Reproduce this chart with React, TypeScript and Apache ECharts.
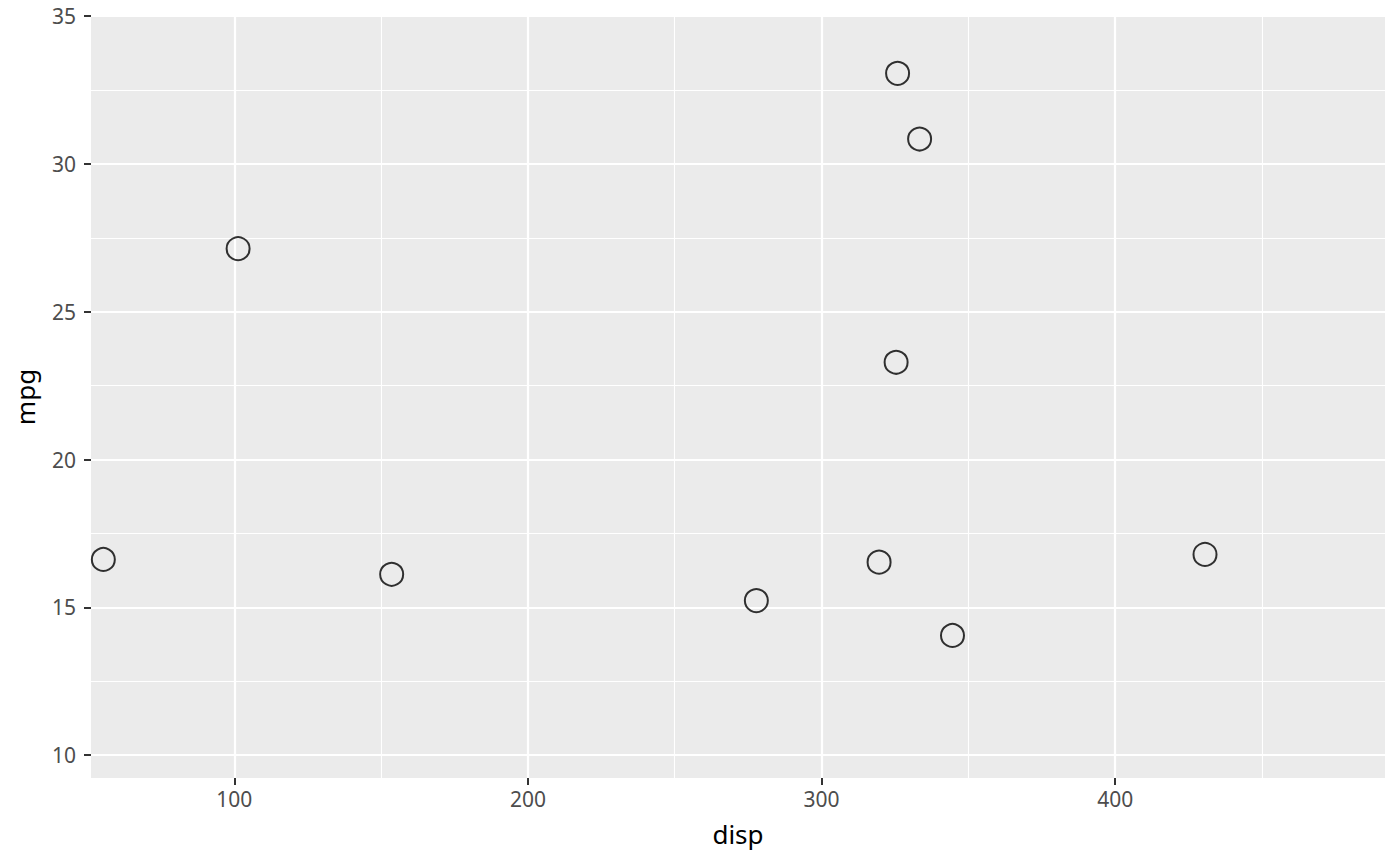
import React, { useEffect, useRef } from 'react';
import * as echarts from 'echarts';

// values (disp, mpg)
const dispValues = [55.4, 101.3, 153.6, 277.8, 319.6, 325.9, 333.4, 325.4, 344.6, 430.6];
const mpgValues = [16.62, 27.13, 16.12, 15.23, 16.53, 33.06, 30.84, 23.29, 14.05, 16.79];

const xTicks = [100, 200, 300, 400];
const xMinorTicks = [150, 250, 350, 450];
const yTicks = [10, 15, 20, 25, 30, 35];
const yMinorTicks = [12.5, 17.5, 22.5, 27.5, 32.5];

const FONT = 'Noto Sans';

const App: React.FC = () => {
  const chartRef = useRef<HTMLDivElement>(null);

  useEffect(() => {
    const chart = echarts.init(chartRef.current!, undefined, { renderer: 'svg' });

    const major = { color: '#ffffff', width: 2.2, type: 'solid' };
    const minor = { color: '#ffffff', width: 1.1, type: 'solid' };

    const gridLines = [
      ...xMinorTicks.map((v) => ({ xAxis: v, lineStyle: minor })),
      ...yMinorTicks.map((v) => ({ yAxis: v, lineStyle: minor })),
      ...xTicks.map((v) => ({ xAxis: v, lineStyle: major })),
      ...yTicks.map((v) => ({ yAxis: v, lineStyle: major })),
    ];

    const options = {
      animation: false,
      grid: {
        left: 91,
        right: 15,
        top: 16,
        bottom: 88,
        show: true,
        backgroundColor: '#EBEBEB',
        borderWidth: 0,
      },
      xAxis: {
        type: 'value',
        min: 51.2,
        max: 491.9,
        name: 'disp',
        nameLocation: 'middle',
        nameGap: 43,
        nameTextStyle: { color: '#000000', fontSize: 26, fontFamily: FONT },
        axisLine: { show: false },
        axisTick: {
          show: true,
          customValues: xTicks,
          length: 7,
          lineStyle: { color: '#333333', width: 2 },
        },
        axisLabel: {
          customValues: xTicks,
          margin: 10,
          color: '#4D4D4D',
          fontSize: 21,
          fontFamily: FONT,
        },
        splitLine: { show: false },
      },
      yAxis: {
        type: 'value',
        min: 9.23,
        max: 35,
        name: 'mpg',
        nameLocation: 'middle',
        nameGap: 53,
        nameTextStyle: { color: '#000000', fontSize: 26, fontFamily: FONT },
        axisLine: { show: false },
        axisTick: {
          show: true,
          customValues: yTicks,
          length: 7,
          lineStyle: { color: '#333333', width: 2 },
        },
        axisLabel: {
          customValues: yTicks,
          margin: 15,
          color: '#4D4D4D',
          fontSize: 21,
          fontFamily: FONT,
        },
        splitLine: { show: false },
      },
      series: [
        // panel grid lines
        {
          type: 'scatter',
          data: [],
          z: 1,
          silent: true,
          markLine: {
            silent: true,
            z: 1,
            symbol: ['none', 'none'],
            label: { show: false },
            animation: false,
            data: gridLines,
          },
        },
        {
          type: 'scatter',
          z: 3,
          symbol: 'circle',
          symbolSize: 23,
          itemStyle: { color: 'rgba(0,0,0,0)', borderColor: '#000000', borderWidth: 2 },
          data: dispValues.map((d, i) => [d, mpgValues[i]]),
        },
      ],
    };

    chart.setOption(options);

    return () => {
      chart.dispose();
    };
  }, []);

  return (
    <div
      ref={chartRef}
      style={{ position: 'fixed', left: 0, top: 0, width: '1400px', height: '866px', background: '#ffffff' }}
    />
  );
};

export default App;
